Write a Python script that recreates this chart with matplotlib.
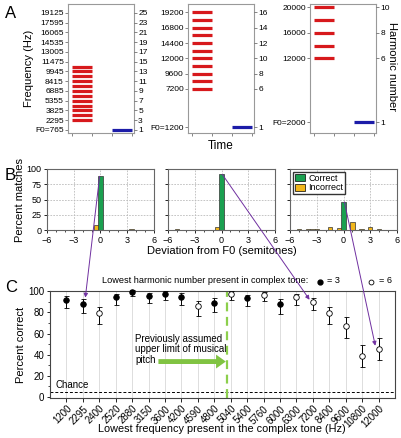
#!/usr/bin/env python

import numpy as np
import matplotlib.pyplot as plt
from matplotlib.patches import ConnectionPatch, Patch

plt.rcParams['font.family'] = ['Liberation Sans', 'DejaVu Sans']
plt.rcParams['axes.linewidth'] = 0.8

# ---- panel A: stimuli (F0 and harmonics present)
f0s = [765, 1200, 2000]
harm_lo = [3, 6, 6]
harm_hi = [14, 16, 10]
left_ticks = [[1, 3, 5, 7, 9, 11, 13, 15, 17, 19, 21, 23, 25],
              [1, 6, 8, 10, 12, 14, 16],
              [1, 6, 8, 10]]

# ---- panel B: pitch match histograms (percent of matches)
correct_b = [88, 91, 46]
incorrect_pos = [[-5, -0.5, 3.5, 4],
                 [-5, -4.5, -0.5, 3],
                 [-5, -4, -3.5, -3, -1.5, -0.5, 1, 2, 3, 4]]
incorrect_val = [[0.7, 8, 1.5, 0.7],
                 [1.5, 0.6, 5, 0.6],
                 [2, 2, 2, 2, 5, 2.5, 13, 1, 5, 2]]

# ---- panel C: percent correct by lowest frequency
freq_labels = ['1200', '2295', '2400', '2520', '2880', '3150', '3600', '4200', '4590', '4800',
               '5040', '5400', '5760', '6000', '6300', '7200', '8400', '9600', '10800', '12000']
lowest_harm = [3, 3, 6, 3, 3, 3, 3, 3, 6, 3, 6, 3, 6, 3, 6, 6, 6, 6, 6, 6]
pct = [92.1, 88, 79.1, 94.3, 99.5, 95.6, 97.8, 94.3, 85.8, 89,
       97.8, 93.4, 96.9, 88, 94.3, 89.8, 79.1, 66.8, 38.9, 45.6]
err_lo = [7.9, 8.9, 10.1, 6.9, 3.5, 6.6, 5.8, 6.9, 9.5, 8.6,
          5.8, 7.0, 6.4, 9.5, 7.6, 7.8, 9.8, 10.8, 10.1, 10.6]
err_hi = [3.1, 4.8, 6.4, 3.2, 1.5, 2.9, 2.2, 3.7, 5.4, 4.7,
          2.2, 2.8, 2.1, 4.8, 3.2, 3.9, 6.1, 8.5, 10.5, 10.1]
chance = 4.5

W, H = 401, 438
fig = plt.figure(figsize=(W / 100, H / 100), dpi=100)


def px_axes(x0, y0, x1, y1):
  return fig.add_axes([x0 / W, 1 - y1 / H, (x1 - x0) / W, (y1 - y0) / H])


red = '#d7191c'
blue = '#1c1ca8'
grey = '#999999'

# ------------- A
a_lefts = [68, 188, 310]
axA = []
for i, f0 in enumerate(f0s):
  ax = px_axes(a_lefts[i], 4.5, a_lefts[i] + 66, 133)
  axA.append(ax)
  harms = np.arange(harm_lo[i], harm_hi[i] + 1)
  ax.hlines(harms * f0, 0, 1, color=red, lw=2.3)
  ax.hlines(f0, 2, 3, color=blue, lw=2.3)
  ax.set_xlim(-0.2, 3.1)
  ax.set_ylim(290, 20450)
  ax.set_xticks([0, 1, 2, 3])
  ax.set_xticklabels([])
  ticks = [h * f0 for h in left_ticks[i]]
  ax.set_yticks(ticks)
  labs = [str(t) for t in ticks]
  labs[0] = 'F0=' + str(f0)
  ax.set_yticklabels(labs, fontsize=6)
  for s in ax.spines.values():
    s.set_color(grey)
  ax.tick_params(length=2, width=0.5, color='#555555', pad=1)
  axr = ax.twinx()
  axr.set_ylim(290 / f0, 20450 / f0)
  axr.set_yticks(left_ticks[i])
  axr.set_yticklabels([str(t) for t in left_ticks[i]], fontsize=6)
  axr.tick_params(length=2, width=0.5, color='#555555', pad=1)
  for s in axr.spines.values():
    s.set_visible(False)

axA[0].set_ylabel('Frequency (Hz)', fontsize=8, labelpad=1)
axA[1].set_xlabel('Time', fontsize=8.5, labelpad=2)
fig.text(392 / W, 1 - 67 / H, 'Harmonic number', rotation=270, fontsize=8,
         ha='center', va='center')

# ------------- B
green = '#1aa050'
gold = '#f2b71b'
b_lefts = [47, 168, 290]
axB = []
for i in range(3):
  ax = px_axes(b_lefts[i], 169, b_lefts[i] + 107, 230)
  axB.append(ax)
  ax.set_axisbelow(True)
  ax.grid(True, ls=(0, (2, 1.5)), color='#bbbbbb', lw=0.6)
  ax.bar([0], [correct_b[i]], width=0.5, color=green, edgecolor='#333333', lw=0.5)
  ax.bar(incorrect_pos[i], incorrect_val[i], width=0.5, color=gold,
         edgecolor='#333333', lw=0.5)
  ax.set_xlim(-6, 6)
  ax.set_ylim(0, 100)
  ax.set_xticks([-6, -3, 0, 3, 6])
  ax.set_xticks(np.arange(-6, 7, 1), minor=True)
  ax.set_yticks([0, 25, 50, 75, 100])
  ax.tick_params(labelsize=6.5, length=2.5, width=0.6, pad=1.5)
  ax.tick_params(which='minor', length=1.5, width=0.5)
  for s in ax.spines.values():
    s.set_color('#666666')
  if i > 0:
    ax.set_yticklabels([])

axB[0].set_ylabel('Percent matches', fontsize=8, labelpad=1)
axB[1].set_xlabel('Deviation from F0 (semitones)', fontsize=8, labelpad=1)
axB[2].legend(handles=[Patch(facecolor=green, edgecolor='k', lw=0.5, label='Correct'),
                       Patch(facecolor=gold, edgecolor='k', lw=0.5, label='Incorrect')],
              loc='upper left', fontsize=6.5, frameon=True, fancybox=False,
              edgecolor='#333333', framealpha=1, borderpad=0.2, handlelength=1.2,
              handleheight=0.9, handletextpad=0.3, labelspacing=0.1,
              borderaxespad=0.3)

# ------------- C
axC = px_axes(50, 291.3, 395, 398)
x = np.arange(len(freq_labels))
for xi in x:
  axC.axvline(xi, color='#dddddd', lw=0.7, zorder=0)
pct_a = np.array(pct)
lo_a = np.array(err_lo)
hi_a = np.array(err_hi)
lh = np.array(lowest_harm)
for h, fc in [(3, 'black'), (6, 'white')]:
  m = lh == h
  axC.errorbar(x[m], pct_a[m], yerr=[lo_a[m], hi_a[m]], fmt='o', ms=4,
               mfc=fc, mec='black', mew=0.6, ecolor='black', elinewidth=0.7,
               capsize=1.8, capthick=0.6, zorder=3, clip_on=False)
axC.axhline(chance, color='black', ls=(0, (3, 2)), lw=0.7)
axC.text(-0.65, chance + 2, 'Chance', fontsize=7, va='bottom')
axC.axvline(9.75, color='#8ccf4c', ls=(0, (4, 2.5)), lw=1.6, zorder=2)
axC.annotate('', xy=(9.7, 33.5), xytext=(5.6, 33.5),
             arrowprops=dict(width=3.5, headwidth=10, headlength=7,
                             color='#80c342', lw=0))
axC.text(4.2, 60, 'Previously assumed\nupper limit of musical\npitch', fontsize=7,
         va='top', ha='left', linespacing=1.1)
axC.set_xlim(-1, 20)
axC.set_ylim(-1, 100)
axC.set_xticks(x)
axC.set_xticklabels(freq_labels, rotation=45, ha='right', rotation_mode='anchor',
                    fontsize=5.3)
axC.set_yticks(np.arange(0, 101, 20))
axC.set_yticks(np.arange(0, 101, 10), minor=True)
axC.tick_params(labelsize=7, length=2.5, width=0.6, pad=1.5)
axC.tick_params(axis='x', length=3, pad=1)
axC.tick_params(which='minor', length=1.5, width=0.5)
for s in axC.spines.values():
  s.set_color('#444444')
axC.set_ylabel('Percent correct', fontsize=8, labelpad=2)
fig.text(222 / W, 1 - 429.5 / H, 'Lowest frequency present in the complex tone (Hz)',
         fontsize=7.8, ha='center', va='center')

axC.text(0.15, 1.055, 'Lowest harmonic number present in complex tone:', fontsize=6.6,
         transform=axC.transAxes, va='bottom')
axC.plot([0.783], [1.085], 'o', ms=3.5, mfc='black', mec='black',
         transform=axC.transAxes, clip_on=False)
axC.text(0.803, 1.055, '= 3', fontsize=6.6, transform=axC.transAxes, va='bottom')
axC.plot([0.930], [1.085], 'o', ms=3.5, mfc='white', mec='black', mew=0.6,
         transform=axC.transAxes, clip_on=False)
axC.text(0.955, 1.055, '= 6', fontsize=6.6, transform=axC.transAxes, va='bottom')

# purple links from B to C
purple = '#7030a0'
links = [(0, (-0.1, 88), (1.15, 94)),
         (1, (0.1, 91), (14.8, 92)),
         (2, (0.1, 46), (18.8, 48.5))]
for i, pa, pb in links:
  con = ConnectionPatch(xyA=pa, coordsA=axB[i].transData, xyB=pb, coordsB=axC.transData,
                        arrowstyle='-|>', mutation_scale=6, color=purple, lw=0.7,
                        zorder=10)
  fig.add_artist(con)

# panel letters
fig.text(5 / W, 1 - 18 / H, 'A', fontsize=12)
fig.text(5 / W, 1 - 180 / H, 'B', fontsize=12)
fig.text(5 / W, 1 - 292 / H, 'C', fontsize=12)

plt.savefig('out.png', dpi=100)
